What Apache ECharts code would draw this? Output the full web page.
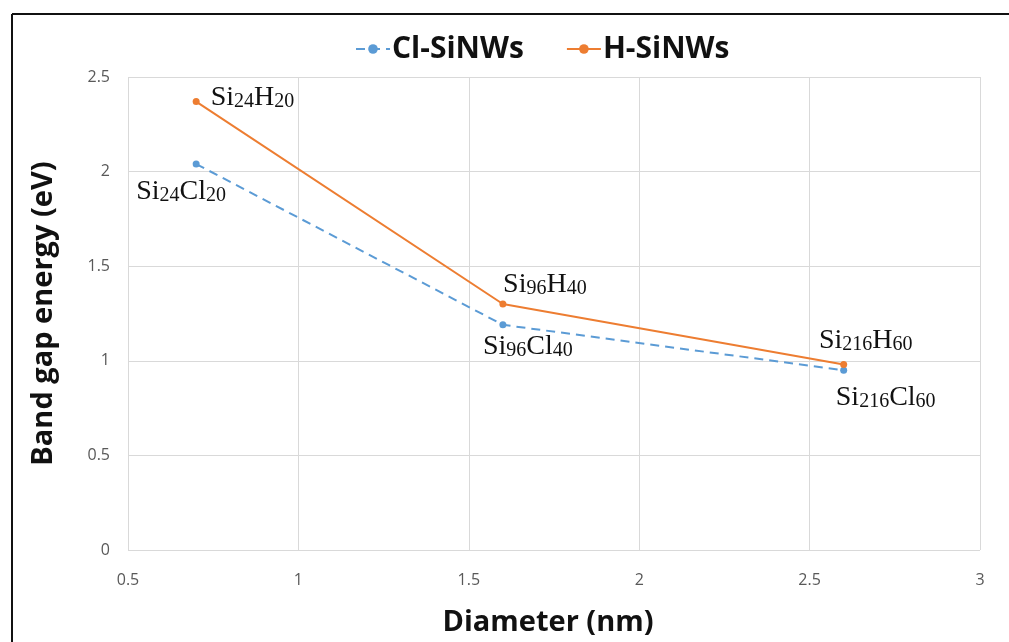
<!DOCTYPE html>
<html>
<head>
<meta charset="utf-8">
<script src="https://cdn.jsdelivr.net/npm/echarts@6/dist/echarts.min.js"></script>
<style>html,body{margin:0;padding:0;background:#fff;}#c{width:1009px;height:642px;}</style>
</head>
<body>
<div id="c"></div>
<script>
const diameters = [0.7, 1.6, 2.6];
const clValues = [2.04, 1.19, 0.95];
const hValues = [2.37, 1.30, 0.98];
const clLabels = ['Si{s|24}Cl{s|20}', 'Si{s|96}Cl{s|40}', 'Si{s|216}Cl{s|60}'];
const hLabels = ['Si{s|24}H{s|20}', 'Si{s|96}H{s|40}', 'Si{s|216}H{s|60}'];
const xTicks = [0.5, 1, 1.5, 2, 2.5, 3];
const yTicks = [0, 0.5, 1, 1.5, 2, 2.5];

const clLabelCfg = [
  {position: 'bottom', offset: [-15, 3]},
  {position: 'bottom', offset: [25, -3]},
  {position: 'bottom', offset: [42, 3]}
];
const hLabelCfg = [
  {position: 'right', offset: [6, -5]},
  {position: 'top', offset: [42, 3]},
  {position: 'top', offset: [22, -1]}
];

const rich = {
  m: {fontFamily: 'Liberation Serif', fontSize: 28, color: '#111', lineHeight: 30, verticalAlign: 'bottom'},
  s: {fontFamily: 'Liberation Serif', fontSize: 20, color: '#111', lineHeight: 25, verticalAlign: 'bottom'}
};
function wrap(t){ return t.replace(/(^|\})([^{]+)(?=\{|$)/g, (a,b,c)=> b + '{m|' + c + '}'); }

function build(vals, labels, cfg){
  return diameters.map((d,i)=>({
    value: [d, vals[i]],
    label: {show: true, formatter: wrap(labels[i]), position: cfg[i].position, offset: cfg[i].offset, rich: rich}
  }));
}

const chart = echarts.init(document.getElementById('c'));
chart.setOption({
  backgroundColor: '#fff',
  animation: false,
  graphic: [
    {type: 'line', shape: {x1: 12, y1: 14, x2: 1009, y2: 14}, style: {stroke: '#111', lineWidth: 2}},
    {type: 'line', shape: {x1: 12, y1: 14, x2: 12, y2: 642}, style: {stroke: '#111', lineWidth: 2}}
  ],
  legend: {
    top: 29, left: 350,
    itemWidth: 34, itemHeight: 12, itemGap: 42,
    textStyle: {fontFamily: 'Open Sans', fontWeight: 'bold', fontSize: 30, color: '#111', padding: [0, 0, 0, -3]},
    data: ['Cl-SiNWs', 'H-SiNWs']
  },
  grid: {left: 128, right: 29, top: 77, bottom: 92},
  xAxis: {
    type: 'value', min: xTicks[0], max: xTicks[xTicks.length-1], interval: 0.5,
    name: 'Diameter (nm)', nameLocation: 'middle', nameGap: 58,
    nameTextStyle: {fontFamily: 'Open Sans', fontWeight: 'bold', fontSize: 29, color: '#111', padding: [0, 12, 0, 0]},
    axisLine: {show: false}, axisTick: {show: false},
    axisLabel: {fontFamily: 'Open Sans', fontSize: 16, color: '#595959', margin: 22},
    splitLine: {show: true, lineStyle: {color: '#d9d9d9', width: 1}}
  },
  yAxis: {
    type: 'value', min: yTicks[0], max: yTicks[yTicks.length-1], interval: 0.5,
    name: 'Band gap energy (eV)', nameLocation: 'middle', nameGap: 70,
    nameTextStyle: {fontFamily: 'Open Sans', fontWeight: 'bold', fontSize: 29, color: '#111'},
    axisLine: {show: false}, axisTick: {show: false},
    axisLabel: {fontFamily: 'Open Sans', fontSize: 16, color: '#595959', margin: 18},
    splitLine: {show: true, lineStyle: {color: '#d9d9d9', width: 1}}
  },
  series: [
    {
      name: 'Cl-SiNWs', type: 'line', data: build(clValues, clLabels, clLabelCfg),
      symbol: 'circle', symbolSize: 7,
      itemStyle: {color: '#5b9bd5'},
      lineStyle: {color: '#5b9bd5', width: 2, type: [9, 6]}
    },
    {
      name: 'H-SiNWs', type: 'line', data: build(hValues, hLabels, hLabelCfg),
      symbol: 'circle', symbolSize: 7,
      itemStyle: {color: '#ed7d31'},
      lineStyle: {color: '#ed7d31', width: 2}
    }
  ]
});
</script>
</body>
</html>
